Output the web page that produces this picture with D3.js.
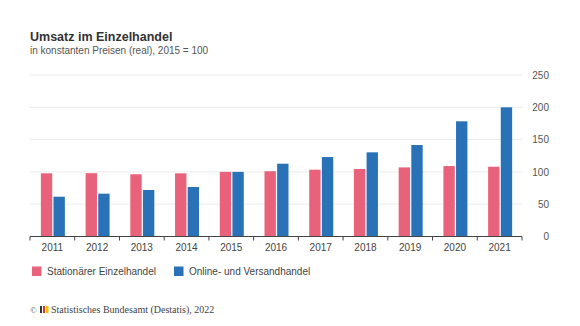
<!DOCTYPE html>
<html>
<head>
<meta charset="utf-8">
<script src="https://cdn.jsdelivr.net/npm/d3@7"></script>
<style>
  body { margin: 0; background: #fff; }
  svg { font-family: "Liberation Sans", Arial, sans-serif; }
</style>
</head>
<body>
<div id="chart"></div>
<script>
const years = ["2011", "2012", "2013", "2014", "2015", "2016", "2017", "2018", "2019", "2020", "2021"];
const stationaer = [97.8, 98, 96.3, 97.8, 100, 101, 103.4, 104.5, 107, 109, 108];
const online = [61.6, 66.3, 72, 76.6, 100, 112.7, 123, 130.3, 141.6, 178.3, 200];
const yTicks = [0, 50, 100, 150, 200, 250];
const seriesNames = ["Stationärer Einzelhandel", "Online- und Versandhandel"];
const seriesColors = ["#e8627b", "#2a72b7"];

const W = 580, H = 326;
const plot = { left: 30, right: 522, top: 75, bottom: 236.5 };

const svg = d3.select("#chart").append("svg")
    .attr("width", W)
    .attr("height", H);

// title + subtitle
svg.append("text")
    .attr("x", 30).attr("y", 41)
    .attr("font-size", 12.5).attr("font-weight", "bold")
    .attr("fill", "#333")
    .text("Umsatz im Einzelhandel");
svg.append("text")
    .attr("x", 30).attr("y", 54)
    .attr("font-size", 10)
    .attr("fill", "#555")
    .text("in konstanten Preisen (real), 2015 = 100");

const x0 = d3.scaleBand()
    .domain(years)
    .range([plot.left, plot.right])
    .paddingInner(0).paddingOuter(0);

const x1 = d3.scaleBand()
    .domain([0, 1])
    .range([0, 24])
    .paddingInner(0.1);

const y = d3.scaleLinear()
    .domain([0, 250])
    .range([plot.bottom, plot.top]);

// horizontal gridlines
svg.append("g")
    .selectAll("line")
    .data(yTicks.filter(d => d > 0))
    .join("line")
    .attr("x1", plot.left).attr("x2", plot.right)
    .attr("y1", d => y(d)).attr("y2", d => y(d))
    .attr("stroke", "#ececec")
    .attr("stroke-width", 1);

// y labels on the right
const yAxis = svg.append("g")
    .attr("transform", `translate(${549},0)`)
    .call(d3.axisRight(y).tickValues(yTicks).tickSize(0).tickPadding(0));
yAxis.select(".domain").remove();
yAxis.selectAll("text")
    .attr("text-anchor", "end")
    .attr("font-size", 10)
    .attr("fill", "#555")
    .attr("font-family", "Liberation Sans, Arial, sans-serif");

// bars
const rows = years.map((yr, i) => ({ year: yr, values: [stationaer[i], online[i]] }));
const groups = svg.append("g")
    .selectAll("g")
    .data(rows)
    .join("g")
    .attr("transform", d => `translate(${x0(d.year) + x0.bandwidth() / 2 - 11.5},0)`);

groups.selectAll("rect")
    .data(d => d.values.map((v, k) => ({ k, v })))
    .join("rect")
    .attr("x", d => x1(d.k))
    .attr("width", x1.bandwidth())
    .attr("y", d => y(d.v))
    .attr("height", d => y(0) - y(d.v))
    .attr("fill", d => seriesColors[d.k]);

// x axis with ticks between categories
const xg = svg.append("g")
    .attr("transform", `translate(0,${plot.bottom})`);
xg.append("line")
    .attr("x1", plot.left).attr("x2", plot.right)
    .attr("stroke", "#444").attr("stroke-width", 1);
xg.selectAll("line.tick")
    .data(years.map(d => x0(d)).concat([plot.right]))
    .join("line")
    .attr("class", "tick")
    .attr("x1", d => d).attr("x2", d => d)
    .attr("y1", 0).attr("y2", 4)
    .attr("stroke", "#444");
xg.selectAll("text")
    .data(years)
    .join("text")
    .attr("x", d => x0(d) + x0.bandwidth() / 2)
    .attr("y", 14.5)
    .attr("text-anchor", "middle")
    .attr("font-size", 10)
    .attr("fill", "#444")
    .text(d => d);

// legend
const legendX = [32, 174];
const legend = svg.append("g")
    .selectAll("g")
    .data(seriesNames)
    .join("g")
    .attr("transform", (d, i) => `translate(${legendX[i]},266.5)`);
legend.append("rect")
    .attr("width", 9.5).attr("height", 9.5)
    .attr("fill", (d, i) => seriesColors[i]);
legend.append("text")
    .attr("x", 15).attr("y", 8.5)
    .attr("font-size", 10)
    .attr("fill", "#444")
    .text(d => d);

// source line
const foot = svg.append("g").attr("transform", "translate(30,313)");
foot.append("text")
    .attr("x", 0).attr("y", 0)
    .attr("font-family", "Liberation Serif, serif")
    .attr("font-size", 9)
    .attr("fill", "#555")
    .text("©");
// small logo mark
foot.append("rect").attr("x", 10).attr("y", -7).attr("width", 2).attr("height", 7).attr("fill", "#333");
foot.append("rect").attr("x", 13).attr("y", -7).attr("width", 2).attr("height", 7).attr("fill", "#d33");
foot.append("rect").attr("x", 16).attr("y", -7).attr("width", 2.5).attr("height", 7).attr("fill", "#f2c200");
foot.append("text")
    .attr("x", 21).attr("y", 0)
    .attr("font-family", "Liberation Serif, serif")
    .attr("font-size", 10)
    .attr("fill", "#444")
    .text("Statistisches Bundesamt (Destatis), 2022");
</script>
</body>
</html>
